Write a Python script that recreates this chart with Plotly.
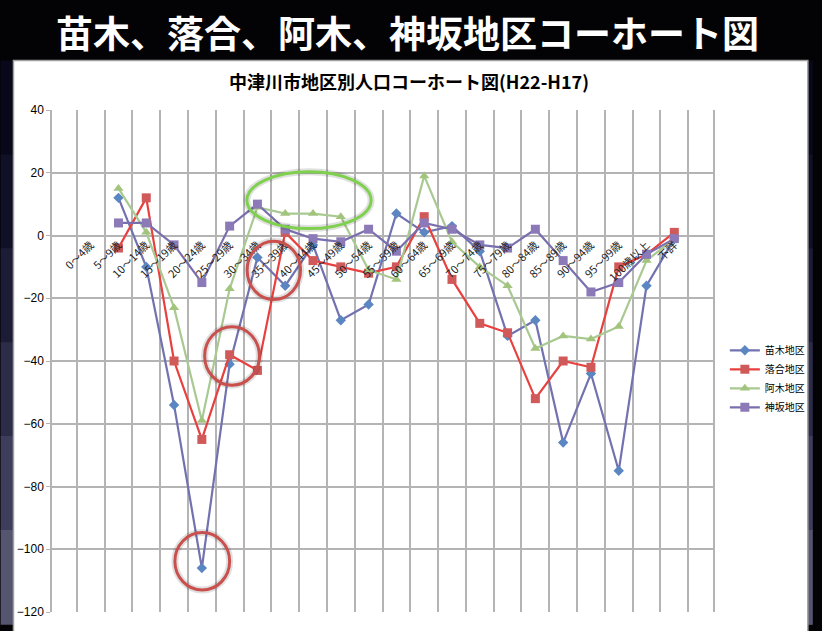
import plotly.graph_objects as go

# categories (age groups)
ages = ["0〜4歳", "5〜9歳", "10〜14歳", "15〜19歳", "20〜24歳", "25〜29歳",
        "30〜34歳", "35〜39歳", "40〜44歳", "45〜49歳", "50〜54歳", "55〜59歳",
        "60〜64歳", "65〜69歳", "70〜74歳", "75〜79歳", "80〜84歳", "85〜89歳",
        "90〜94歳", "95〜99歳", "100歳以上", "不詳"]

naegi = [None, 12, -10, -54, -106, -41, -7, -16, -3, -27, -22, 7,
         1, 3, -5, -32, -27, -66, -44, -75, -16, -1]
ochiai = [None, -4, 12, -40, -65, -38, -43, 1, -8, -10, -12, -10,
          6, -14, -28, -31, -52, -40, -42, -10, -6, 1]
agi = [None, 15, 1, -23, -59, -17, 9, 7, 7, 6, -11, -14,
       19, -2, -10, -16, -36, -32, -33, -29, -8, -1]
misaka = [None, 4, 4, -3, -15, 3, 10, 2, -1, -2, 2, -5,
          4, 2, -3, -4, 2, -8, -18, -15, -6, -1]

fig = go.Figure()

series = [
    ("苗木地区", naegi, "#7272b0", "#5b86c2", "diamond", 8),
    ("落合地区", ochiai, "#e8403e", "#d05a5a", "square", 9),
    ("阿木地区", agi, "#a9c992", "#a3c47c", "triangle-up", 9),
    ("神坂地区", misaka, "#7a6fae", "#8c7ab8", "square", 9),
]
for name, vals, lc, mc, sym, ms in series:
    fig.add_trace(go.Scatter(
        x=ages, y=vals, name=name, mode="lines+markers",
        line=dict(color=lc, width=2.2),
        marker=dict(color=mc, symbol=sym, size=ms),
        connectgaps=False))

# highlight circles
circles = [
    # (x0, x1, y0, y1, colour)
    (5.62, 10.09, 2.2, 20.3, "#7ed04e"),
    (5.63, 7.55, -20.4, -1.8, "#c9504d"),
    (4.10, 6.07, -47.7, -29.1, "#c9504d"),
    (3.03, 5.00, -113.0, -94.7, "#c9504d"),
]

# paper coords helpers (plot area: x 52..721 px, y 110..618 px)
def px(x):
    return (x - 52) / 669

def py(y):
    return (618 - y) / 508

shapes = []
# dark side bands, getting lighter towards the bottom
bands = ["#08081a", "#101026", "#1c1c36", "#2c2c48", "#3e3e5c", "#55556f"]
for i, c in enumerate(bands):
    y0 = 60 + i * 95
    shapes.append(dict(type="rect", xref="paper", yref="paper",
                       x0=px(0), x1=px(14), y0=py(y0 + 96), y1=py(y0),
                       fillcolor=c, line=dict(width=0), layer="below"))
    shapes.append(dict(type="rect", xref="paper", yref="paper",
                       x0=px(816), x1=px(822), y0=py(y0 + 96), y1=py(y0),
                       fillcolor=c, line=dict(width=0), layer="below"))
# white chart panel
shapes.append(dict(type="rect", xref="paper", yref="paper", x0=px(13), x1=px(817),
                   y0=py(640), y1=py(60), fillcolor="white",
                   line=dict(color="#a0a0a0", width=1.5), layer="below"))
for x0, x1, y0, y1, c in circles:
    # soft shadow then the ring itself
    shapes.append(dict(type="circle", xref="x", yref="y", x0=x0, x1=x1,
                       y0=y0, y1=y1, line=dict(color="rgba(0,0,0,0.12)", width=7)))
    shapes.append(dict(type="circle", xref="x", yref="y", x0=x0, x1=x1,
                       y0=y0, y1=y1, line=dict(color=c, width=3)))

fig.update_layout(
    width=822, height=631,
    margin=dict(l=52, r=101, t=110, b=13),
    paper_bgcolor="#030305",
    plot_bgcolor="white",
    font=dict(family="Noto Sans CJK JP", color="black"),
    shapes=shapes,
    showlegend=True,
    legend=dict(x=px(733), y=py(382), xanchor="left", yanchor="middle",
                font=dict(size=10), bgcolor="rgba(0,0,0,0)",
                tracegroupgap=4),
    annotations=[
        dict(text="<b>苗木、落合、阿木、神坂地区コーホート図</b>",
             xref="paper", yref="paper", x=px(412), y=py(31),
             xanchor="center", yanchor="middle",
             showarrow=False, font=dict(size=37, color="white",
                                        family="Noto Sans CJK JP")),
        dict(text="<b>中津川市地区別人口コーホート図(H22-H17)</b>",
             xref="paper", yref="paper", x=px(413), y=py(81),
             xanchor="center", yanchor="middle",
             showarrow=False, font=dict(size=18, color="black",
                                        family="Noto Sans CJK JP")),
    ],
)

fig.update_xaxes(
    type="category", categoryorder="array", categoryarray=ages,
    anchor="free", position=0.75,
    tickson="boundaries", showgrid=True, gridcolor="#b4b4b4", gridwidth=1.5,
    tickangle=-45, tickfont=dict(size=11, color="#222222"),
    showline=False, zeroline=False, ticks="",
)
fig.update_yaxes(
    range=[-120, 40], dtick=20, tick0=0,
    showgrid=True, gridcolor="#b4b4b4", gridwidth=1.5,
    zeroline=False, showline=True, linecolor="#b4b4b4", linewidth=1.5,
    mirror=True, ticks="outside", ticklen=4, tickcolor="#b4b4b4",
    tickfont=dict(size=12, family="Liberation Sans", color="black"),
)

fig.write_html("out.html",
               config={"displayModeBar": False},
               post_script="document.body.style.margin='0';"
                           "document.body.style.background='#030305';")
